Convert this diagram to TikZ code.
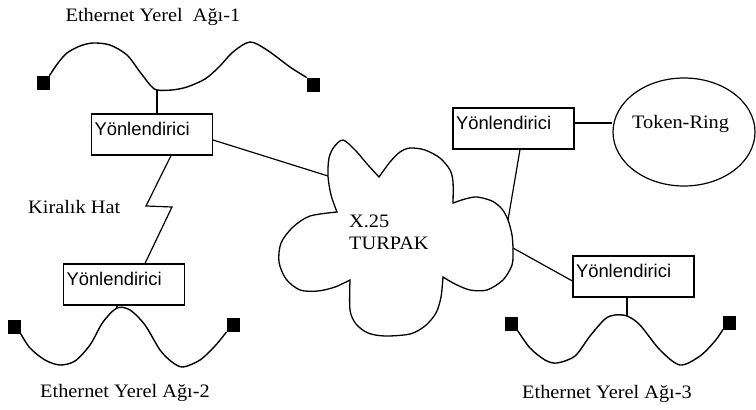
\documentclass[tikz,border=0pt]{standalone}
\usepackage{fontspec}
\setmainfont[FakeStretch=1.07]{Liberation Serif}
\newfontfamily\routerfont{Liberation Sans}
\usetikzlibrary{shapes.geometric}
\tikzset{
  wire/.style={line width=1.2pt},
  bus/.style={line width=1.4pt, line join=round, line cap=round},
  cloudline/.style={line width=1.3pt, line join=miter},
  router/.style={draw, line width=1.2pt, rectangle, minimum width=121pt,
    minimum height=41pt, text width=115pt, inner xsep=3pt, align=left,
    text depth=11pt, font=\routerfont\fontsize{18.4}{20}\selectfont},
  term/.style={fill=black, rectangle, inner sep=0pt, minimum width=13pt, minimum height=14pt},
  lbl/.style={font=\fontsize{19}{22}\selectfont, inner sep=0pt},
}
\begin{document}
\begin{tikzpicture}[x=1pt,y=-1pt]
\useasboundingbox (0,0) rectangle (756,410);

% routers
\node[router] (r1) at (152,134.5) {Yönlendirici};
\node[router] (r2) at (124,284.5) {Yönlendirici};
\node[router] (r3) at (513.5,128.5) {Yönlendirici};
\node[router] (r4) at (633.5,276.5) {Yönlendirici};

% token ring
\node[draw, ellipse, line width=1.2pt, minimum width=142pt, minimum height=108pt, inner sep=0pt] (ring) at (684,132) {};
\node[lbl, anchor=base west] (ringtext) at (632,128) {Token-Ring};

% segment terminators
\node[term] (t1l) at (43,82.5) {};
\node[term] (t1r) at (313,84.5) {};
\node[term] (t2l) at (14,326.5) {};
\node[term] (t2r) at (233,325) {};
\node[term] (t3l) at (511,323.5) {};
\node[term] (t3r) at (729.5,322.5) {};

% tap points on the bus segments
\coordinate (w1c) at (157,90);
\coordinate (w2c) at (117,308);
\coordinate (w3c) at (627,316);

% Ethernet bus segments
\draw[bus] plot[smooth] coordinates {(t1l.north east) (58,63) (67,53) (80,46) (93,43) (110,45)
  (127,55) (140,72) (151,86) (w1c) (172,90) (187,87) (205,79) (219,67) (233,52) (250,42)
  (267,50) (290,67) (t1r.north west)};
\draw[bus] plot[smooth] coordinates {(t2l.south east) (30,348) (45,360) (60,365) (75,361)
  (90,345) (103,322) (w2c) (130,310) (145,325) (160,350) (172,362) (183,367) (200,360)
  (215,346) (t2r.south west)};
\draw[bus] plot[smooth] coordinates {(t3l.south east) (530,348) (545,360) (557,363) (575,356)
  (590,336) (605,319) (615,315) (w3c) (640,325) (660,350) (680,365) (700,356) (715,341)
  (t3r.south west)};

% X.25 cloud
\draw[cloudline]
  plot[smooth] coordinates {(337,212) (331,195) (328,176) (329,158) (334,147) (343,140) (355,150) (368,165) (379,177)}
  -- plot[smooth] coordinates {(379,177) (390,162) (400,152) (410,148) (425,150) (440,158) (450,170) (453,182) (453,203)}
  -- plot[smooth] coordinates {(453,203) (465,199) (477,197) (492,201) (502,209) (508,220) (512,235) (513,250) (512,265) (503,280) (487,290) (470,290) (455,284) (443,277)}
  -- plot[smooth] coordinates {(443,277) (441,297) (436,313) (425,326) (410,334) (385,336) (368,333) (356,324) (350,310) (350,280)}
  -- plot[smooth] coordinates {(350,280) (335,287) (318,291) (300,290) (286,279) (279,262) (281,243) (293,227) (310,216) (337,212)}
  -- cycle;
\node[lbl, anchor=base west] (x25a) at (349,227) {X.25};
\node[lbl, anchor=base west] (x25b) at (349,249) {TURPAK};

% attachment points on the cloud
\coordinate (cl1) at (328,176);
\coordinate (cl2) at (508,220);
\coordinate (cl3) at (513,248);

% leased line (zigzag)
\coordinate (k1) at (146,206);
\coordinate (k2) at (172,207);
\draw[wire] ([xshift=19pt]r1.south) -- (k1) -- (k2) -- ([xshift=21pt]r2.north);
\node[lbl, anchor=base west] (leased) at (28,213) {Kiralık Hat};

% connections
\draw[wire] ([xshift=5pt]r1.north) -- (w1c);
\draw[wire] ([xshift=-7pt]r2.south) -- (w2c);
\draw[wire] ([xshift=-6.5pt]r4.south) -- (w3c);
\draw[wire] ([yshift=-5.5pt]r1.east) -- (cl1);
\draw[wire] ([xshift=6.5pt]r3.south) -- (cl2);
\draw[wire] (cl3) -- ([yshift=-4.5pt]r4.west);
\draw[wire] ([yshift=5.5pt]r3.east) -- ([yshift=5.5pt]r3.east -| ring.west);

% segment titles
\node[lbl, anchor=base] (title1) at (153,21) {Ethernet Yerel~~Ağı-1};
\node[lbl, anchor=base] (title2) at (125,397) {Ethernet Yerel Ağı-2};
\node[lbl, anchor=base] (title3) at (607,398) {Ethernet Yerel Ağı-3};
\end{tikzpicture}
\end{document}
